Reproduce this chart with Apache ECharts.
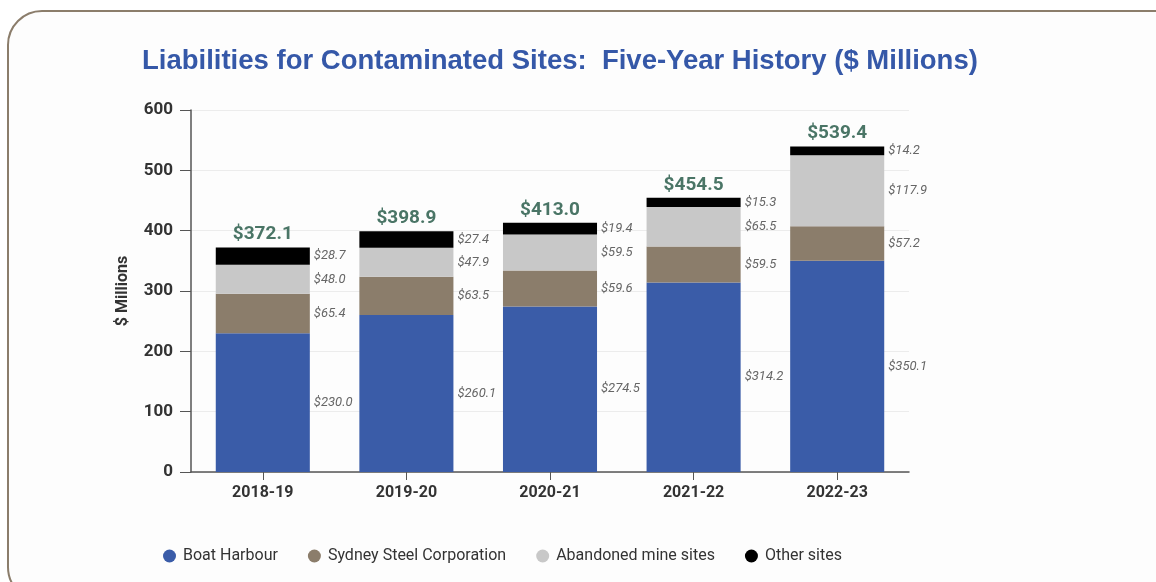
<!DOCTYPE html>
<html>
<head>
<meta charset="utf-8">
<script src="https://cdn.jsdelivr.net/npm/echarts@6/dist/echarts.min.js"></script>
<style>
  html, body { margin: 0; padding: 0; background: #fff; }
  #chart { width: 1156px; height: 582px; }
</style>
</head>
<body>
<div id="chart"></div>
<script>
// values ($ millions)
var years = ['2018-19', '2019-20', '2020-21', '2021-22', '2022-23'];
var boatHarbour = [230.0, 260.1, 274.5, 314.2, 350.1];
var sydneySteel = [65.4, 63.5, 59.6, 59.5, 57.2];
var abandonedMines = [48.0, 47.9, 59.5, 65.5, 117.9];
var otherSites = [28.7, 27.4, 19.4, 15.3, 14.2];
var totals = [372.1, 398.9, 413.0, 454.5, 539.4];
var yTicks = [0, 100, 200, 300, 400, 500, 600];

var condensed = 'Roboto, "DejaVu Sans", sans-serif';
var myChart = echarts.init(document.getElementById('chart'));

function segLabel() {
	return {
		show: true,
		position: 'right',
		distance: 4,
		color: '#666',
		fontStyle: 'italic',
		fontFamily: condensed,
		fontSize: 13,
		formatter: function (p) { return '$' + p.value.toFixed(1); }
	};
}

function barSeries(name, data, color) {
	return {
		name: name,
		type: 'bar',
		stack: 'all',
		barWidth: '65.5%',
		data: data,
		itemStyle: { color: color },
		label: segLabel()
	};
}

var option = {
	backgroundColor: '#fff',
	animation: false,
	graphic: [
		{
			type: 'rect',
			shape: { x: 8, y: 11, width: 1180, height: 590, r: 34 },
			style: { fill: '#fdfdfd', stroke: '#8b7d6b', lineWidth: 2 },
			z: -10,
			silent: true
		}
	],
	title: {
		text: 'Liabilities for Contaminated Sites:  Five-Year History ($ Millions)',
		left: 137,
		top: 42,
		textStyle: {
			color: '#3558a8',
			fontFamily: '"Liberation Sans", Arial, sans-serif',
			fontWeight: 'bold',
			fontSize: 27.5
		}
	},
	legend: {
		data: ['Boat Harbour', 'Sydney Steel Corporation', 'Abandoned mine sites', 'Other sites'],
		left: 158,
		bottom: 13,
		icon: 'circle',
		itemWidth: 13,
		itemHeight: 13,
		itemGap: 30,
		textStyle: {
			color: '#333',
			fontFamily: condensed,
			fontSize: 16,
			padding: [0, 0, 0, 2]
		}
	},
	grid: {
		left: 191,
		right: 247,
		top: 110,
		bottom: 110
	},
	xAxis: {
		type: 'category',
		data: years,
		axisLine: { lineStyle: { color: '#555', width: 1.5 } },
		axisTick: { show: true, alignWithLabel: true, length: 8, lineStyle: { color: '#555' } },
		axisLabel: {
			color: '#333',
			fontWeight: 'bold',
			fontFamily: condensed,
			fontSize: 16,
			margin: 13
		}
	},
	yAxis: {
		type: 'value',
		min: yTicks[0],
		max: yTicks[yTicks.length - 1],
		interval: 100,
		name: '$ Millions',
		nameLocation: 'middle',
		nameGap: 60,
		nameTextStyle: {
			color: '#333',
			fontWeight: 'bold',
			fontFamily: condensed,
			fontSize: 16
		},
		axisLine: { show: true, lineStyle: { color: '#555', width: 1.5 } },
		axisTick: { show: true, length: 11, lineStyle: { color: '#555' } },
		axisLabel: {
			color: '#333',
			fontWeight: 'bold',
			fontFamily: condensed,
			fontSize: 17,
			margin: 18
		},
		splitLine: { lineStyle: { color: '#ececec' } }
	},
	series: [
		barSeries('Boat Harbour', boatHarbour, '#3a5ca8'),
		barSeries('Sydney Steel Corporation', sydneySteel, '#8b7d6b'),
		barSeries('Abandoned mine sites', abandonedMines, '#c8c8c8'),
		barSeries('Other sites', otherSites, '#000000'),
		{
			name: 'Total',
			type: 'line',
			data: totals,
			symbol: 'circle',
			symbolSize: 1,
			silent: true,
			itemStyle: { color: 'rgba(0,0,0,0)' },
			lineStyle: { opacity: 0 },
			label: {
				show: true,
				position: 'top',
				distance: 3,
				color: '#4a7566',
				fontWeight: 'bold',
				fontFamily: condensed,
				fontSize: 19,
				formatter: function (p) { return '$' + p.value.toFixed(1); }
			}
		}
	]
};
myChart.setOption(option);
window.addEventListener('resize', () => myChart.resize(), false);
</script>
</body>
</html>
